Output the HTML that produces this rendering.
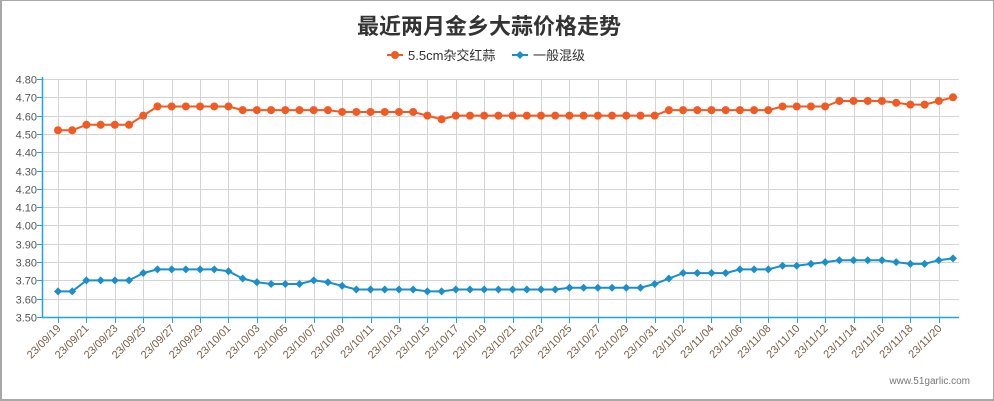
<!DOCTYPE html>
<html><head><meta charset="utf-8">
<style>
html,body{margin:0;padding:0;background:#fff;}
#wrap{position:relative;width:994px;height:401px;box-sizing:border-box;border:2px solid #a8a8a8;border-right-width:1px;border-top-width:1px;overflow:hidden;font-family:"Liberation Sans","Noto Sans CJK SC",sans-serif;}
svg text{font-family:"Liberation Sans","Noto Sans CJK SC",sans-serif;}
</style></head>
<body>
<div id="wrap">
<svg id="chart" width="994" height="401" style="position:absolute;left:-2px;top:-1px">
<text x="489" y="34" text-anchor="middle" font-size="22" font-weight="bold" fill="#333">最近两月金乡大蒜价格走势</text>
<g>
<g>
<line x1="387" y1="55" x2="403" y2="55" stroke="#f15a22" stroke-width="2"/>
<circle cx="395" cy="55" r="4" fill="#f15a22"/>
<text x="408" y="60" font-size="13" fill="#333">5.5cm杂交红蒜</text>
</g>
<g>
<line x1="512" y1="55" x2="528" y2="55" stroke="#1a8fc9" stroke-width="2"/>
<path d="M520 51 L524 55 L520 59 L516 55Z" fill="#1a8fc9"/>
<text x="533" y="60" font-size="13" fill="#333">一般混级</text>
</g>
</g>
<g id="grid"></g>
<g id="axes"></g>
<g id="series"></g>
<text x="970" y="384" text-anchor="end" font-size="10" fill="#777">www.51garlic.com</text>
</svg>
</div>
<script>
const categories = (function(){const a=[];const d=new Date(2023,8,19);for(let i=0;i<64;i++){const m=d.getMonth()+1,dd=d.getDate();a.push('23/'+String(m).padStart(2,'0')+'/'+String(dd).padStart(2,'0'));d.setDate(d.getDate()+1);}return a;})();
const hybridRed = [4.52,4.52,4.55,4.55,4.55,4.55,4.60,4.65,4.65,4.65,4.65,4.65,4.65,4.63,4.63,4.63,4.63,4.63,4.63,4.63,4.62,4.62,4.62,4.62,4.62,4.62,4.60,4.58,4.60,4.60,4.60,4.60,4.60,4.60,4.60,4.60,4.60,4.60,4.60,4.60,4.60,4.60,4.60,4.63,4.63,4.63,4.63,4.63,4.63,4.63,4.63,4.65,4.65,4.65,4.65,4.68,4.68,4.68,4.68,4.67,4.66,4.66,4.68,4.70];
const generalMixed = [3.64,3.64,3.70,3.70,3.70,3.70,3.74,3.76,3.76,3.76,3.76,3.76,3.75,3.71,3.69,3.68,3.68,3.68,3.70,3.69,3.67,3.65,3.65,3.65,3.65,3.65,3.64,3.64,3.65,3.65,3.65,3.65,3.65,3.65,3.65,3.65,3.66,3.66,3.66,3.66,3.66,3.66,3.68,3.71,3.74,3.74,3.74,3.74,3.76,3.76,3.76,3.78,3.78,3.79,3.80,3.81,3.81,3.81,3.81,3.80,3.79,3.79,3.81,3.82];
const yTicks = [3.50,3.60,3.70,3.80,3.90,4.00,4.10,4.20,4.30,4.40,4.50,4.60,4.70,4.80];

const NS='http://www.w3.org/2000/svg';
const L=42,R=959,T=79,B=317,yMin=3.5,yMax=4.8;
const X0=58,X1=953;
const xAt=i=>X0+(X1-X0)*i/(categories.length-1);
const yAt=v=>B-(v-yMin)/(yMax-yMin)*(B-T);
function mk(tag,attrs,parent){const e=document.createElementNS(NS,tag);for(const k in attrs)e.setAttribute(k,attrs[k]);parent.appendChild(e);return e;}
const grid=document.getElementById('grid'),axes=document.getElementById('axes'),ser=document.getElementById('series');
yTicks.forEach(v=>{
  const y=Math.round(yAt(v))+0.5;
  const gl=mk('line',{x1:L,x2:R,y1:y,y2:y,stroke:'#d4d4d4','stroke-width':1},grid);
  
  
  mk('line',{x1:L-5,x2:L,y1:y,y2:y,stroke:'#1aa6e4','stroke-width':1},axes);
  const t=mk('text',{x:L-5,y:y+4,'text-anchor':'end','font-size':11,fill:'#555'},axes);
  t.textContent=v.toFixed(2);
  
  
});
categories.forEach((c,i)=>{
  if(i%2)return;
  const x=Math.round(xAt(i))+0.5;
  const gl=mk('line',{x1:x,x2:x,y1:T,y2:B,stroke:'#d4d4d4','stroke-width':1},grid);
  
  
  mk('line',{x1:x,x2:x,y1:B,y2:B+6,stroke:'#1aa6e4','stroke-width':1},axes);
  const t=mk('text',{x:x+3,y:B+12,'text-anchor':'end','font-size':11,fill:'#7a6045',transform:'rotate(-45 '+(x+3)+' '+(B+12)+')'},axes);
  t.textContent=c;
  
  
});
const ya=mk('line',{x1:L+0.5,x2:L+0.5,y1:T-2,y2:B,stroke:'#1aa6e4','stroke-width':1.5},axes);


const xa=mk('line',{x1:L,x2:R,y1:B+0.5,y2:B+0.5,stroke:'#1aa6e4','stroke-width':1.5},axes);


function drawSeries(data,color,shape,name){
  const g=mk('g',{},ser);
  
  
  const pts=data.map((v,i)=>xAt(i).toFixed(1)+','+yAt(v).toFixed(1)).join(' ');
  const pl=mk('polyline',{points:pts,fill:'none',stroke:color,'stroke-width':2},g);
  
  
  data.forEach((v,i)=>{
    const x=xAt(i),y=yAt(v);let m;
    if(shape==='circle')m=mk('circle',{cx:x,cy:y,r:4,fill:color},g);
    else m=mk('path',{d:`M${x} ${y-4}L${x+4} ${y}L${x} ${y+4}L${x-4} ${y}Z`,fill:color},g);
    
    
  });
}
drawSeries(hybridRed,'#f15a22','circle','hybrid-red-series');
drawSeries(generalMixed,'#1a8fc9','diamond','general-mixed-series');
</script>
</body></html>
